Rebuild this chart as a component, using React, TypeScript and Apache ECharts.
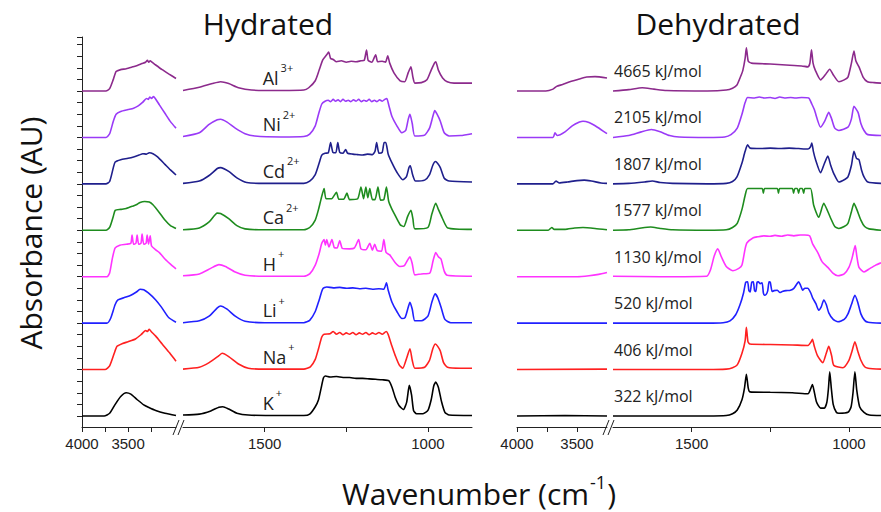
import React, { useEffect, useRef } from "react";
import * as echarts from "echarts";

// ---------- Hydrated spectra (wavenumber, absorbance above own baseline) ----------
const hydK_A = [[4000,0],[3760,0],[3700,0.06],[3640,0.25],[3580,0.42],[3520,0.5],[3470,0.47],[3400,0.35],[3330,0.24],[3280,0.19],[3200,0.12],[3100,0.06],[2980,0.01]];
const hydK_B = [[1750,0.02],[1700,0.04],[1665,0.11],[1640,0.19],[1628,0.2],[1610,0.15],[1585,0.06],[1550,0.02],[1450,0.01],[1380,0.01],[1362,0.04],[1345,0.2],[1335,0.35],[1327,0.6],[1320,0.82],[1314,0.86],[1300,0.84],[1280,0.85],[1260,0.83],[1240,0.83],[1220,0.81],[1200,0.81],[1180,0.8],[1160,0.79],[1140,0.78],[1120,0.76],[1110,0.62],[1100,0.4],[1088,0.22],[1075,0.14],[1065,0.3],[1057,0.66],[1050,0.45],[1044,0.12],[1035,0.05],[1015,0.05],[1000,0.12],[990,0.35],[982,0.65],[976,0.73],[968,0.62],[958,0.3],[948,0.08],[935,0.02],[865,0.01]];

const hydNa_A = [[4000,0],[3750,0],[3700,0.08],[3650,0.35],[3620,0.5],[3560,0.56],[3500,0.6],[3420,0.66],[3360,0.75],[3310,0.84],[3290,0.82],[3270,0.87],[3250,0.82],[3200,0.72],[3130,0.55],[3050,0.36],[2980,0.18]];
const hydNa_B = [[1750,0.01],[1700,0.05],[1670,0.15],[1640,0.3],[1630,0.35],[1610,0.28],[1580,0.12],[1550,0.03],[1500,0.01],[1380,0.01],[1360,0.06],[1345,0.22],[1335,0.45],[1325,0.7],[1318,0.76],[1300,0.77],[1290,0.82],[1280,0.76],[1270,0.8],[1260,0.75],[1250,0.79],[1240,0.76],[1230,0.8],[1220,0.75],[1210,0.79],[1200,0.76],[1190,0.8],[1180,0.75],[1170,0.79],[1160,0.76],[1150,0.8],[1140,0.76],[1128,0.82],[1122,0.76],[1110,0.5],[1100,0.3],[1088,0.1],[1077,0.03],[1065,0.25],[1055,0.45],[1048,0.2],[1040,0.03],[1010,0.05],[995,0.2],[985,0.45],[977,0.55],[970,0.5],[962,0.4],[952,0.15],[940,0.05],[900,0.03],[865,0.03]];

const hydLi_A = [[4000,0],[3730,0],[3690,0.1],[3640,0.4],[3610,0.5],[3540,0.55],[3470,0.6],[3410,0.67],[3370,0.73],[3330,0.72],[3280,0.65],[3200,0.5],[3140,0.35],[3060,0.12],[2980,0.02]];
const hydLi_B = [[1750,0.01],[1700,0.05],[1670,0.15],[1645,0.33],[1635,0.37],[1615,0.3],[1590,0.15],[1560,0.04],[1500,0.01],[1380,0.01],[1362,0.06],[1345,0.25],[1333,0.5],[1322,0.74],[1310,0.78],[1290,0.76],[1270,0.77],[1250,0.75],[1230,0.76],[1210,0.74],[1190,0.75],[1170,0.73],[1150,0.74],[1135,0.73],[1127,0.87],[1122,0.72],[1110,0.45],[1095,0.25],[1080,0.1],[1070,0.12],[1060,0.35],[1055,0.45],[1048,0.3],[1040,0.05],[1020,0.05],[1000,0.15],[988,0.45],[978,0.63],[970,0.55],[960,0.35],[948,0.08],[930,0.01],[865,0.01]];

const hydH_A = [[4000,0],[3730,0],[3700,0.08],[3670,0.4],[3640,0.62],[3590,0.68],[3520,0.7],[3470,0.72],[3457,0.9],[3440,0.7],[3415,0.72],[3402,0.9],[3385,0.7],[3360,0.72],[3348,0.92],[3330,0.7],[3305,0.72],[3293,0.9],[3278,0.7],[3260,0.88],[3245,0.66],[3200,0.58],[3160,0.52],[3100,0.38],[3040,0.27],[2980,0.17]];
const hydH_B = [[1750,0.02],[1700,0.06],[1665,0.18],[1640,0.26],[1620,0.22],[1590,0.1],[1560,0.03],[1500,0.01],[1380,0.01],[1362,0.06],[1345,0.25],[1333,0.5],[1325,0.72],[1318,0.8],[1314,0.68],[1310,0.8],[1303,0.64],[1294,0.8],[1287,0.63],[1278,0.62],[1270,0.78],[1262,0.61],[1240,0.6],[1225,0.62],[1212,0.8],[1205,0.6],[1190,0.58],[1178,0.72],[1170,0.57],[1163,0.7],[1155,0.56],[1142,0.55],[1135,0.8],[1128,0.52],[1117,0.47],[1100,0.3],[1086,0.22],[1072,0.24],[1062,0.36],[1055,0.43],[1048,0.28],[1040,0.04],[1020,0.06],[994,0.08],[984,0.35],[976,0.52],[968,0.43],[960,0.38],[950,0.12],[941,0.03],[865,0.01]];

const hydCa_A = [[4000,0],[3740,0],[3700,0.06],[3660,0.3],[3640,0.43],[3580,0.45],[3520,0.47],[3450,0.52],[3400,0.56],[3370,0.6],[3320,0.62],[3270,0.61],[3230,0.55],[3160,0.38],[3100,0.22],[3040,0.1],[2980,0.04]];
const hydCa_B = [[1750,0.01],[1700,0.05],[1670,0.18],[1645,0.37],[1635,0.36],[1610,0.25],[1585,0.1],[1560,0.03],[1500,0.01],[1380,0.01],[1362,0.06],[1345,0.22],[1335,0.45],[1328,0.65],[1318,0.9],[1312,0.68],[1295,0.68],[1280,0.82],[1273,0.67],[1258,0.67],[1248,0.8],[1240,0.66],[1215,0.68],[1205,0.93],[1197,0.68],[1190,0.93],[1184,0.7],[1178,0.9],[1170,0.66],[1162,0.66],[1153,0.93],[1145,0.65],[1135,0.66],[1127,0.93],[1120,0.62],[1110,0.45],[1104,0.37],[1085,0.12],[1074,0.08],[1062,0.3],[1052,0.43],[1046,0.25],[1040,0.03],[1000,0.06],[988,0.35],[976,0.58],[968,0.45],[957,0.28],[939,0.05],[865,0.02]];

const hydCd_A = [[4000,0],[3740,0],[3700,0.05],[3660,0.35],[3640,0.47],[3580,0.52],[3500,0.55],[3440,0.58],[3380,0.62],[3340,0.65],[3300,0.64],[3270,0.67],[3230,0.65],[3180,0.58],[3100,0.42],[3040,0.3],[2980,0.19]];
const hydCd_B = [[1750,0.01],[1700,0.06],[1670,0.18],[1645,0.33],[1635,0.35],[1610,0.27],[1585,0.13],[1555,0.03],[1500,0.01],[1380,0.01],[1362,0.06],[1345,0.2],[1333,0.45],[1325,0.62],[1315,0.66],[1305,0.67],[1298,0.89],[1291,0.68],[1282,0.67],[1276,0.89],[1270,0.68],[1260,0.66],[1252,0.74],[1246,0.66],[1230,0.64],[1215,0.63],[1200,0.62],[1185,0.64],[1170,0.63],[1162,0.7],[1157,0.89],[1150,0.66],[1140,0.68],[1134,0.89],[1129,0.89],[1122,0.65],[1110,0.45],[1095,0.25],[1077,0.09],[1066,0.15],[1058,0.35],[1054,0.39],[1047,0.2],[1038,0.06],[1010,0.08],[995,0.2],[985,0.4],[977,0.48],[970,0.44],[962,0.35],[950,0.12],[935,0.06],[865,0.04]];

const hydNi_A = [[4000,0],[3740,0],[3700,0.08],[3660,0.35],[3630,0.5],[3580,0.56],[3500,0.6],[3440,0.63],[3390,0.68],[3340,0.76],[3300,0.84],[3280,0.82],[3265,0.87],[3245,0.84],[3225,0.88],[3205,0.84],[3160,0.7],[3100,0.52],[3040,0.34],[2980,0.2]];
const hydNi_B = [[1750,0.02],[1700,0.1],[1670,0.28],[1645,0.38],[1635,0.39],[1615,0.33],[1590,0.2],[1560,0.08],[1530,0.03],[1450,0.01],[1380,0.02],[1362,0.07],[1345,0.25],[1335,0.5],[1325,0.72],[1315,0.78],[1305,0.8],[1298,0.77],[1290,0.82],[1283,0.78],[1275,0.81],[1268,0.77],[1260,0.82],[1252,0.78],[1244,0.8],[1236,0.77],[1228,0.81],[1220,0.78],[1212,0.82],[1204,0.77],[1196,0.8],[1188,0.78],[1180,0.82],[1172,0.77],[1164,0.8],[1156,0.77],[1148,0.81],[1140,0.78],[1132,0.82],[1126,0.84],[1120,0.7],[1110,0.45],[1095,0.25],[1080,0.1],[1068,0.15],[1060,0.4],[1055,0.5],[1048,0.3],[1040,0.03],[1010,0.05],[995,0.2],[985,0.45],[979,0.58],[972,0.5],[962,0.35],[950,0.1],[935,0.03],[900,0.04],[865,0.08]];

const hydAl_A = [[4000,0],[3740,0],[3700,0.05],[3660,0.25],[3630,0.42],[3580,0.46],[3520,0.48],[3450,0.52],[3400,0.55],[3350,0.59],[3310,0.62],[3290,0.66],[3275,0.62],[3260,0.65],[3240,0.62],[3200,0.56],[3130,0.46],[3060,0.37],[2980,0.27]];
const hydAl_B = [[1750,0.01],[1700,0.08],[1660,0.16],[1635,0.2],[1610,0.16],[1580,0.07],[1540,0.02],[1450,0.01],[1380,0.02],[1365,0.07],[1345,0.22],[1333,0.45],[1322,0.67],[1310,0.78],[1304,0.84],[1298,0.7],[1290,0.68],[1280,0.63],[1265,0.65],[1250,0.62],[1235,0.64],[1220,0.63],[1205,0.65],[1195,0.66],[1188,0.88],[1183,0.66],[1172,0.62],[1160,0.78],[1154,0.63],[1140,0.64],[1130,0.62],[1123,0.76],[1117,0.6],[1104,0.39],[1085,0.22],[1071,0.2],[1060,0.4],[1052,0.52],[1046,0.3],[1040,0.17],[1020,0.18],[1003,0.24],[990,0.45],[980,0.6],[976,0.63],[968,0.45],[955,0.28],[941,0.2],[920,0.17],[865,0.17]];

// ---------- Dehydrated spectra ----------
const dehK_A = [[4000,0],[3600,0.01],[3250,0]];
const dehK_B = [[1750,0],[1450,0],[1390,0.01],[1370,0.05],[1355,0.13],[1340,0.35],[1332,0.6],[1326,0.9],[1320,0.6],[1315,0.52],[1250,0.51],[1180,0.5],[1130,0.48],[1122,0.58],[1116,0.68],[1111,0.55],[1103,0.3],[1090,0.17],[1078,0.17],[1070,0.3],[1065,0.6],[1061,0.95],[1056,0.6],[1050,0.25],[1040,0.08],[1032,0.06],[1003,0.08],[993,0.2],[987,0.5],[981,0.95],[975,0.55],[966,0.2],[952,0.08],[935,0.02],[898,0.01]];

const dehNa_A = [[4000,0],[3250,0.01]];
const dehNa_B = [[1750,0],[1450,0],[1390,0.01],[1370,0.04],[1355,0.1],[1340,0.35],[1330,0.62],[1326,0.91],[1321,0.6],[1315,0.55],[1250,0.54],[1180,0.53],[1130,0.52],[1120,0.6],[1116,0.65],[1110,0.5],[1100,0.3],[1083,0.15],[1072,0.35],[1064,0.5],[1055,0.3],[1048,0.09],[1019,0.04],[1000,0.2],[990,0.4],[981,0.6],[972,0.4],[962,0.2],[950,0.06],[939,0.03],[898,0.01]];

const dehLi_A = [[4000,0],[3250,0]];
const dehLi_B = [[1750,0],[1450,0],[1400,0.01],[1378,0.05],[1360,0.18],[1346,0.4],[1335,0.65],[1328,0.88],[1322,0.89],[1318,0.7],[1314,0.67],[1309,0.88],[1304,0.89],[1300,0.7],[1296,0.68],[1292,0.88],[1288,0.89],[1282,0.85],[1276,0.87],[1272,0.65],[1269,0.6],[1263,0.62],[1258,0.7],[1254,0.89],[1250,0.88],[1244,0.68],[1238,0.7],[1228,0.71],[1220,0.66],[1212,0.68],[1200,0.7],[1186,0.71],[1175,0.75],[1165,0.85],[1160,0.89],[1154,0.82],[1147,0.71],[1140,0.75],[1131,0.75],[1122,0.66],[1115,0.54],[1105,0.42],[1096,0.28],[1088,0.35],[1080,0.5],[1072,0.4],[1064,0.22],[1050,0.08],[1035,0.03],[1015,0.08],[1003,0.2],[992,0.4],[981,0.6],[972,0.45],[962,0.2],[950,0.06],[939,0.02],[898,0]];

const dehH_A = [[4000,0],[3500,0],[3400,0.02],[3320,0.05],[3250,0.09]];
const dehH_B = [[1750,0.01],[1600,0],[1452,0.01],[1440,0.15],[1428,0.45],[1417,0.6],[1405,0.42],[1390,0.22],[1369,0.13],[1350,0.18],[1340,0.25],[1330,0.6],[1324,0.73],[1304,0.84],[1290,0.86],[1270,0.88],[1250,0.87],[1235,0.89],[1215,0.87],[1195,0.9],[1175,0.88],[1155,0.9],[1140,0.9],[1125,0.88],[1115,0.7],[1099,0.52],[1085,0.32],[1067,0.2],[1050,0.07],[1035,0.02],[1015,0.06],[1000,0.2],[990,0.4],[980,0.67],[975,0.45],[968,0.2],[952,0.1],[935,0.17],[915,0.25],[898,0.3]];

const dehCa_A = [[4000,0],[3740,0],[3710,0.06],[3690,0.02],[3600,0.02],[3520,0.05],[3450,0.06],[3350,0.04],[3250,0.01]];
const dehCa_B = [[1750,0],[1700,0.01],[1660,0.05],[1630,0.07],[1600,0.04],[1560,0.01],[1450,0],[1390,0.01],[1370,0.06],[1355,0.15],[1340,0.45],[1330,0.75],[1322,0.9],[1276,0.9],[1272,0.8],[1268,0.9],[1228,0.9],[1224,0.8],[1220,0.9],[1180,0.9],[1176,0.8],[1172,0.9],[1164,0.9],[1160,0.8],[1156,0.9],[1148,0.9],[1144,0.8],[1140,0.9],[1122,0.9],[1112,0.54],[1096,0.28],[1080,0.58],[1070,0.45],[1058,0.26],[1045,0.08],[1032,0.04],[1015,0.08],[1003,0.15],[992,0.4],[984,0.58],[975,0.45],[962,0.22],[950,0.08],[936,0.03],[898,0]];

const dehCd_A = [[4000,0],[3700,0],[3675,0.06],[3650,0.02],[3580,0.04],[3500,0.07],[3440,0.08],[3380,0.06],[3300,0.02],[3250,0.01]];
const dehCd_B = [[1750,0],[1700,0.01],[1650,0.04],[1625,0.06],[1600,0.03],[1560,0.01],[1450,0],[1390,0.01],[1370,0.05],[1356,0.15],[1340,0.45],[1330,0.7],[1322,0.84],[1314,0.77],[1280,0.76],[1250,0.77],[1220,0.76],[1190,0.77],[1160,0.76],[1130,0.75],[1122,0.8],[1118,0.88],[1113,0.7],[1106,0.52],[1090,0.24],[1080,0.4],[1067,0.6],[1058,0.4],[1048,0.22],[1032,0.04],[1012,0.1],[1003,0.15],[992,0.4],[984,0.7],[976,0.55],[968,0.52],[960,0.3],[952,0.15],[940,0.04],[898,0.01]];

const dehNi_A = [[4000,0],[3700,0],[3683,0.1],[3665,0.04],[3600,0.12],[3540,0.25],[3480,0.33],[3450,0.35],[3400,0.32],[3330,0.22],[3250,0.08]];
const dehNi_B = [[1750,0],[1700,0.04],[1660,0.12],[1628,0.17],[1600,0.12],[1570,0.04],[1540,0.01],[1450,0],[1395,0.01],[1375,0.06],[1355,0.2],[1340,0.5],[1330,0.75],[1322,0.86],[1300,0.85],[1285,0.87],[1270,0.85],[1250,0.86],[1235,0.84],[1220,0.87],[1205,0.85],[1185,0.86],[1170,0.85],[1150,0.86],[1128,0.85],[1118,0.72],[1110,0.6],[1090,0.22],[1077,0.35],[1064,0.54],[1055,0.4],[1045,0.2],[1032,0.15],[1003,0.22],[992,0.4],[984,0.67],[971,0.54],[962,0.3],[952,0.15],[940,0.06],[898,0.04]];

const dehAl_A = [[4000,0],[3760,0],[3700,0.04],[3670,0.1],[3620,0.14],[3560,0.2],[3480,0.26],[3420,0.3],[3350,0.31],[3250,0.28]];
const dehAl_B = [[1750,0],[1700,0.03],[1657,0.07],[1620,0.04],[1580,0.01],[1450,0],[1390,0.02],[1370,0.06],[1356,0.13],[1345,0.3],[1337,0.45],[1330,0.7],[1326,0.93],[1320,0.64],[1310,0.6],[1250,0.58],[1200,0.56],[1150,0.54],[1130,0.52],[1124,0.6],[1119,0.89],[1114,0.6],[1107,0.45],[1090,0.24],[1075,0.35],[1061,0.47],[1050,0.35],[1032,0.2],[1015,0.24],[1003,0.3],[992,0.6],[984,0.86],[978,0.65],[968,0.52],[955,0.3],[941,0.2],[920,0.18],[898,0.17]];

// ---------- Labels & colours ----------
const cationNames = ["K", "Na", "Li", "H", "Ca", "Cd", "Ni", "Al"];
const cationCharges = ["+", "+", "+", "+", "2+", "2+", "2+", "3+"];
const energyLabels = ["322 kJ/mol", "406 kJ/mol", "520 kJ/mol", "1130 kJ/mol", "1577 kJ/mol", "1807 kJ/mol", "2105 kJ/mol", "4665 kJ/mol"];
const traceColors = ["#000000", "#ff2020", "#2020ff", "#ff33ff", "#1e8c1e", "#1f1f8c", "#9a3af7", "#8c2a8c"];

const hydratedA = [hydK_A, hydNa_A, hydLi_A, hydH_A, hydCa_A, hydCd_A, hydNi_A, hydAl_A];
const hydratedB = [hydK_B, hydNa_B, hydLi_B, hydH_B, hydCa_B, hydCd_B, hydNi_B, hydAl_B];
const dehydratedA = [dehK_A, dehNa_A, dehLi_A, dehH_A, dehCa_A, dehCd_A, dehNi_A, dehAl_A];
const dehydratedB = [dehK_B, dehNa_B, dehLi_B, dehH_B, dehCa_B, dehCd_B, dehNi_B, dehAl_B];

const xTicksHigh = [4000, 3750, 3500, 3250];
const xLabelsHigh = [4000, 3500];
const xTicksLow = [1500, 1250, 1000];
const xLabelsLow = [1500, 1000];

const Y_MIN = -0.237;
const Y_MAX = 8.163;

const AXIS_COLOR = "#222";
const SANS = '"Open Sans", "DejaVu Sans", sans-serif';

function measure(text: string, font: string): number {
  const c = document.createElement("canvas").getContext("2d");
  if (!c) return text.length * 8;
  c.font = font;
  return c.measureText(text).width;
}

export default function App() {
  const ref = useRef<HTMLDivElement>(null);
  useEffect(() => {
    if (!ref.current) return;
    const chart = echarts.init(ref.current, undefined, { renderer: "svg" });

    const yTicks: number[] = [];
    for (let v = -0.25; v <= 8.01; v += 0.25) yTicks.push(Math.round(v * 100) / 100);
    yTicks.push(Y_MAX);

    const xAxisBase = (gi: number, min: number, max: number, ticks: number[], labels: number[]) => ({
      type: "value",
      gridIndex: gi,
      min,
      max,
      inverse: true,
      position: "bottom",
      axisLine: { show: true, onZero: false, lineStyle: { color: AXIS_COLOR, width: 1 } },
      axisTick: { show: true, length: 5, customValues: ticks, lineStyle: { color: AXIS_COLOR, width: 1 } },
      axisLabel: {
        show: true,
        customValues: labels,
        formatter: (v: number) => String(Math.round(v)),
        fontSize: 15,
        fontFamily: '"Liberation Sans", Arial, sans-serif',
        color: "#222",
        margin: 9,
      },
      splitLine: { show: false },
    });

    const yAxisBase = (gi: number, show: boolean) => ({
      type: "value",
      gridIndex: gi,
      min: Y_MIN,
      max: Y_MAX,
      show,
      axisLine: { show: true, onZero: false, lineStyle: { color: AXIS_COLOR, width: 1 } },
      axisTick: { show: true, inside: false, length: 5, customValues: yTicks, lineStyle: { color: AXIS_COLOR, width: 1 } },
      axisLabel: { show: false },
      splitLine: { show: false },
    });

    const series: any[] = [];
    const groups = [hydratedA, hydratedB, dehydratedA, dehydratedB];
    groups.forEach((group, gi) => {
      group.forEach((trace, i) => {
        series.push({
          type: "line",
          xAxisIndex: gi,
          yAxisIndex: gi,
          data: trace.map(([w, a]) => [w, a + i]),
          showSymbol: false,
          smooth: 0.2,
          lineStyle: { color: traceColors[i], width: 1.6 },
          itemStyle: { color: traceColors[i] },
          z: 2,
        });
      });
    });

    chart.setOption({
      animation: false,
      backgroundColor: "#ffffff",
      grid: [
        { left: 82, top: 37, width: 94, height: 390 },
        { left: 183, top: 37, width: 289, height: 390 },
        { left: 517, top: 37, width: 90, height: 390 },
        { left: 613, top: 37, width: 268, height: 390 },
      ],
      xAxis: [
        xAxisBase(0, 2980, 4000, xTicksHigh, xLabelsHigh),
        xAxisBase(1, 865, 1750, xTicksLow, xLabelsLow),
        xAxisBase(2, 3250, 4000, [4000, 3750, 3500], xLabelsHigh),
        xAxisBase(3, 898, 1750, xTicksLow, xLabelsLow),
      ],
      yAxis: [yAxisBase(0, true), yAxisBase(1, false), yAxisBase(2, false), yAxisBase(3, false)],
      series,
    });

    // ---- texts and decorations ----
    const graphics: any[] = [];
    const titleFont = 30;
    graphics.push({
      type: "text", x: 268, y: 23,
      style: { text: "Hydrated", fontSize: titleFont, fontFamily: SANS, fill: "#111", textAlign: "center", textVerticalAlign: "middle" },
    });
    graphics.push({
      type: "text", x: 718, y: 23,
      style: { text: "Dehydrated", fontSize: titleFont, fontFamily: SANS, fill: "#111", textAlign: "center", textVerticalAlign: "middle" },
    });
    graphics.push({
      type: "text", x: 30, y: 233, rotation: Math.PI / 2,
      style: { text: "Absorbance (AU)", fontSize: titleFont, fontFamily: SANS, fill: "#111", textAlign: "center", textVerticalAlign: "middle" },
    });

    // x-axis title with superscript
    const f30 = `${titleFont}px "Open Sans"`;
    const f18 = `18px "Open Sans"`;
    const partA = "Wavenumber (cm";
    const partS = "-1";
    const partC = ")";
    const wA = measure(partA, f30);
    const wS = measure(partS, f18);
    const wC = measure(partC, f30);
    const startX = 479 - (wA + wS + 2 + wC) / 2;
    graphics.push({ type: "text", x: startX, y: 493, style: { text: partA, fontSize: titleFont, fontFamily: SANS, fill: "#111", textAlign: "left", textVerticalAlign: "middle" } });
    graphics.push({ type: "text", x: startX + wA + 1, y: 482, style: { text: partS, fontSize: 18, fontFamily: SANS, fill: "#111", textAlign: "left", textVerticalAlign: "middle" } });
    graphics.push({ type: "text", x: startX + wA + wS + 2, y: 493, style: { text: partC, fontSize: titleFont, fontFamily: SANS, fill: "#111", textAlign: "left", textVerticalAlign: "middle" } });

    // axis break marks
    const brk = (x0: number) => [
      { type: "line", shape: { x1: x0, y1: 435, x2: x0 + 6, y2: 420 }, style: { stroke: AXIS_COLOR, lineWidth: 1 } },
      { type: "line", shape: { x1: x0 + 5, y1: 435, x2: x0 + 11, y2: 420 }, style: { stroke: AXIS_COLOR, lineWidth: 1 } },
    ];
    graphics.push(...brk(173), ...brk(603));

    // hydrated cation labels
    const labelFont = 18;
    cationNames.forEach((name, i) => {
      const p = chart.convertToPixel({ xAxisIndex: 1, yAxisIndex: 1 }, [1506, i]) as number[];
      const w = measure(name, `${labelFont}px "Open Sans"`);
      graphics.push({ type: "text", x: p[0], y: p[1] - 13, style: { text: name, fontSize: labelFont, fontFamily: SANS, fill: "#222", textAlign: "left", textVerticalAlign: "middle" } });
      graphics.push({ type: "text", x: p[0] + w + 2, y: p[1] - 23, style: { text: cationCharges[i], fontSize: 11, fontFamily: SANS, fill: "#222", textAlign: "left", textVerticalAlign: "middle" } });
    });

    // dehydrated energy labels
    energyLabels.forEach((txt, i) => {
      const p = chart.convertToPixel({ xAxisIndex: 3, yAxisIndex: 3 }, [1750, i]) as number[];
      graphics.push({ type: "text", x: p[0] + 1, y: p[1] - 20, style: { text: txt, fontSize: 16, fontFamily: SANS, fill: "#222", textAlign: "left", textVerticalAlign: "middle" } });
    });

    chart.setOption({ graphic: graphics });

    return () => chart.dispose();
  }, []);

  return <div ref={ref} style={{ position: "fixed", left: 0, top: 0, width: 881, height: 512 }} />;
}
